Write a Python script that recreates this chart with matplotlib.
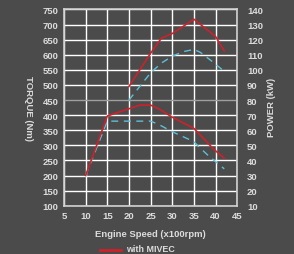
import matplotlib
matplotlib.use('Agg')
import matplotlib.pyplot as plt
from matplotlib.lines import Line2D

# engine speed (x100 rpm) and curve values
rpm_torque_mivec = [10, 15, 22.5, 25, 27, 30, 35, 39.5, 42]
torque_mivec = [200, 397, 433, 433, 420, 393, 356, 288, 257]

rpm_torque_std = [10, 15, 25, 27, 30, 35, 36, 38.3, 42]
torque_std = [200, 380, 380, 368, 345, 312, 297, 266, 222]

rpm_power_mivec = [20, 25, 27.5, 30, 35, 40, 42]
power_mivec = [89, 111, 121, 124, 133.5, 122, 112.5]

rpm_power_std = [20, 25, 27.5, 30, 32.5, 35, 36.5, 39, 42]
power_std = [80, 98, 104.5, 109, 112, 113.5, 111.5, 106, 99]

x_ticks = list(range(5, 50, 5))
torque_ticks = list(range(100, 800, 50))
power_ticks = list(range(10, 150, 10))

BG = '#4b4b4b'
TXT = '#dcdcdc'
RED = '#d0202a'
CYAN = '#5cc0da'

fig = plt.figure(figsize=(2.94, 2.55), dpi=100, facecolor=BG)
ax = fig.add_axes([0.2177, 0.1894, 0.5893, 0.7698])
ax.set_facecolor(BG)

font = dict(family='Liberation Sans', weight='bold', size=6.8, color=TXT)

ax.set_xlim(5, 45)
ax.set_ylim(100, 750)
ax.set_xticks(x_ticks)
ax.set_yticks(torque_ticks)

# grid
for x in x_ticks:
    ax.axvline(x, color='white', lw=1.0, zorder=1)
for y in torque_ticks:
    c = '#a0a0a0' if y == 450 else 'white'
    ax.axhline(y, color=c, lw=1.0, zorder=1)

for s in ax.spines.values():
    s.set_color('#d0d0d0')
    s.set_linewidth(1.2)

ax.tick_params(length=0, pad=4)
ax.set_xticklabels([str(v) for v in x_ticks], **font)
ax.set_yticklabels([str(v) for v in torque_ticks], **font)

ax.plot(rpm_torque_std, torque_std, color=CYAN, lw=1.0, dashes=(5, 4), zorder=3)
ax.plot(rpm_torque_mivec, torque_mivec, color=RED, lw=1.2, zorder=4)

ax2 = ax.twinx()
ax2.set_ylim(10, 140)
ax2.set_yticks(power_ticks)
ax2.set_yticklabels([str(v) for v in power_ticks], **font)
ax2.tick_params(length=0, pad=7)
for s in ax2.spines.values():
    s.set_visible(False)

ax2.plot(rpm_power_std, power_std, color=CYAN, lw=1.0, dashes=(5, 4), zorder=3)
ax2.plot(rpm_power_mivec, power_mivec, color=RED, lw=1.2, zorder=4)

fig.text(28 / 294, 1 - 108 / 255, 'TORQUE (Nm)', rotation=-90,
         ha='center', va='center', **font)
fig.text(272 / 294, 1 - 107 / 255, 'POWER (kW)', rotation=90,
         ha='center', va='center', **font)
fig.text(150 / 294, 1 - 235 / 255, 'Engine Speed (x100rpm)',
         ha='center', va='center', **font)

# legend at the very bottom
fig.add_artist(Line2D([100 / 294, 121 / 294], [1 - 250.5 / 255] * 2,
                      color=RED, lw=2.0, transform=fig.transFigure))
fig.text(126.5 / 294, 1 - 250 / 255, 'with MIVEC', ha='left', va='center',
         family='Liberation Sans', weight='bold', size=6.4, color=TXT)

fig.savefig('out.png', dpi=100, facecolor=BG)
